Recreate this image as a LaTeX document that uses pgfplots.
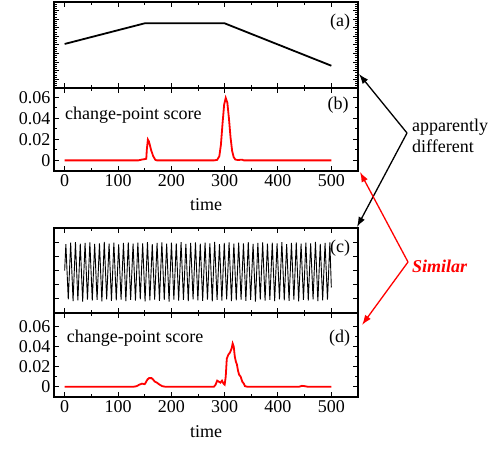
\documentclass[border=0pt]{standalone}
\usepackage{fontspec}
\setmainfont{Liberation Serif}
\usepackage{pgfplots}
\pgfplotsset{compat=1.18}
\usetikzlibrary{arrows.meta}

\pgfplotsset{
  panel/.style={
    scale only axis, width=304pt, anchor=south west,
    xmin=-20, xmax=550,
    xtick={0,100,...,500}, minor x tick num=1,
    tick align=inside,
    axis line style={line width=1.4pt},
    every tick/.style={black, line width=1pt},
    major tick length=5pt, minor tick length=3pt,
    tick label style={font=\fontsize{18}{21}\selectfont},
    /pgf/number format/assume math mode=true,
    scaled y ticks=false,
  },
  score/.style={
    panel,
    ytick={0,0.02,0.04,0.06}, minor y tick num=1,
    yticklabel style={/pgf/number format/fixed, /pgf/number format/precision=2},
    xlabel={time},
    xlabel style={at={(axis description cs:0.5,-0.48)}, anchor=base},
  },
}

\begin{document}
\begin{tikzpicture}[x=1pt,y=1pt,font=\fontsize{18}{21}\selectfont]
\path[use as bounding box] (0,0) rectangle (490,450);

% (a) input signal
\begin{axis}[panel, at={(54pt,362pt)}, height=86pt,
    ymin=0, ymax=1, ytick={0,0.1,...,1}, minor y tick num=3,
    xticklabels={}, yticklabels={}]
  \addplot[black, line width=1.8pt] coordinates {(0,0.512) (150,0.752) (300,0.752) (500,0.259)};
  \node[anchor=north east, inner sep=0pt] at (rel axis cs:0.975,0.86) {(a)};
\end{axis}

% (b) change-point score of (a)
\begin{axis}[score, at={(54pt,279pt)}, height=83pt, ymin=-0.0101, ymax=0.0689]
  \addplot[red, line width=1.8pt] coordinates {
    (0,0) (138,0) (145,0.0008) (150,0.0012) (153,0.0015) (154,0.01) (156,0.0198)
    (158,0.018) (162,0.01) (166,0.004) (170,0.0005) (173,0)
    (280,0) (286,0.0005) (290,0.004) (293,0.015) (296,0.035) (299,0.053) (302,0.0595)
    (305,0.055) (308,0.04) (311,0.022) (314,0.009) (317,0.003) (320,0.0008) (325,0.0003)
    (330,0.0006) (333,0.0006) (336,0) (500,0)};
  \node[anchor=north east, inner sep=0pt] at (rel axis cs:0.97,0.89) {(b)};
  \node[anchor=north west, inner sep=0pt] at (rel axis cs:0.036,0.77) {change-point score};
\end{axis}

% (c) oscillating signal
\begin{axis}[panel, at={(54pt,137pt)}, height=85pt,
    ymin=-1.5, ymax=1.5, ytick={-1.5,-1,...,1.5},
    xticklabels={}, yticklabels={}]
  \addplot[black, line width=0.9pt] coordinates {
    (0,0)(2.25,0.93)(6.75,-1.02)(11.25,0.98)(15.75,-1.08)(20.25,1.00)(24.75,-1.05)
    (29.25,0.95)(33.75,-1.10)(38.25,0.97)(42.75,-1.03)(47.25,0.99)(51.75,-1.06)
    (56.25,0.94)(60.75,-1.04)(65.25,0.96)(69.75,-1.09)(74.25,1.01)(78.75,-1.02)
    (83.25,0.95)(87.75,-1.07)(92.25,0.98)(96.75,-1.05)(101.25,0.92)(105.75,-1.03)
    (110.25,0.97)(114.75,-1.08)(119.25,0.99)(123.75,-1.04)(128.25,0.95)(132.75,-1.06)
    (137.25,0.98)(141.75,-1.02)(146.25,0.96)(150.75,-1.09)(155.25,1.00)(159.75,-1.05)
    (164.25,0.93)(168.75,-1.03)(173.25,0.97)(177.75,-1.07)(182.25,0.99)(186.75,-1.04)
    (191.25,0.95)(195.75,-1.10)(200.25,0.98)(204.75,-1.03)(209.25,0.96)(213.75,-1.06)
    (218.25,1.00)(222.75,-1.04)(227.25,0.94)(231.75,-1.08)(236.25,0.97)(240.75,-1.02)
    (245.25,0.99)(249.75,-1.05)(254.25,0.95)(258.75,-1.07)(263.25,0.98)(267.75,-1.03)
    (272.25,0.96)(276.75,-1.09)(281.25,1.01)(285.75,-1.04)(290.25,0.93)(294.75,-1.06)
    (299.25,0.97)(303.75,-1.02)(308.25,0.99)(312.75,-1.08)(317.25,0.95)(321.75,-1.05)
    (326.25,0.98)(330.75,-1.03)(335.25,0.96)(339.75,-1.07)(344.25,1.00)(348.75,-1.04)
    (353.25,0.94)(357.75,-1.10)(362.25,0.97)(366.75,-1.03)(371.25,0.99)(375.75,-1.06)
    (380.25,0.95)(384.75,-1.04)(389.25,0.98)(393.75,-1.08)(398.25,0.96)(402.75,-1.02)
    (407.25,1.00)(411.75,-1.05)(416.25,0.93)(420.75,-1.07)(425.25,0.97)(429.75,-1.03)
    (434.25,0.99)(438.75,-1.09)(443.25,0.95)(447.75,-1.04)(452.25,0.98)(456.75,-1.06)
    (461.25,0.96)(465.75,-1.02)(470.25,1.01)(474.75,-1.08)(479.25,0.94)(483.75,-1.05)
    (488.25,0.97)(492.75,-1.03)(497.25,0.99)(500,-0.6)};
  \node[anchor=north east, inner sep=0pt] at (rel axis cs:0.975,0.86) {(c)};
\end{axis}

% (d) change-point score of (c)
\begin{axis}[score, at={(54pt,53pt)}, height=84pt, ymin=-0.0103, ymax=0.0734]
  \addplot[red, line width=1.8pt] coordinates {
    (0,0) (130,0) (135,0.0005) (140,0.002) (145,0.003) (150,0.0025) (152,0.004) (155,0.007)
    (158,0.0085) (163,0.0085) (166,0.007) (169,0.005) (173,0.004) (178,0.002) (183,0.0005)
    (188,0) (280,0) (283,0.002) (286,0.006) (289,0.005) (292,0.004) (295,0.006) (298,0.003)
    (300,0.002) (302,0.01) (304,0.028) (307,0.032) (310,0.034) (313,0.038) (315,0.043)
    (317,0.04) (319,0.03) (321,0.025) (323,0.022) (325,0.016) (327,0.012) (330,0.01)
    (333,0.005) (336,0.003) (338,0.0005) (342,0) (440,0) (445,0.0008) (450,0.0005)
    (455,0) (500,0)};
  \node[anchor=north east, inner sep=0pt] at (rel axis cs:0.975,0.80) {(d)};
  \node[anchor=north west, inner sep=0pt] at (rel axis cs:0.042,0.80) {change-point score};
\end{axis}

% annotations
\draw[line width=1.3pt, -{Latex[length=10pt,width=7pt]}] (407,317) -- (359,376);
\draw[line width=1.3pt, -{Latex[length=10pt,width=7pt]}] (407,317) -- (357,223);
\node[anchor=west, align=left, inner sep=0pt] at (412,314) {apparently\\different};
\draw[red, line width=1.3pt, -{Latex[length=10pt,width=7pt]}] (408,188) -- (360,278);
\draw[red, line width=1.3pt, -{Latex[length=10pt,width=7pt]}] (408,188) -- (362,125);
\node[red, anchor=west, inner sep=0pt, font=\fontsize{18}{21}\selectfont\bfseries\itshape] at (412,184) {Similar};
\end{tikzpicture}
\end{document}
